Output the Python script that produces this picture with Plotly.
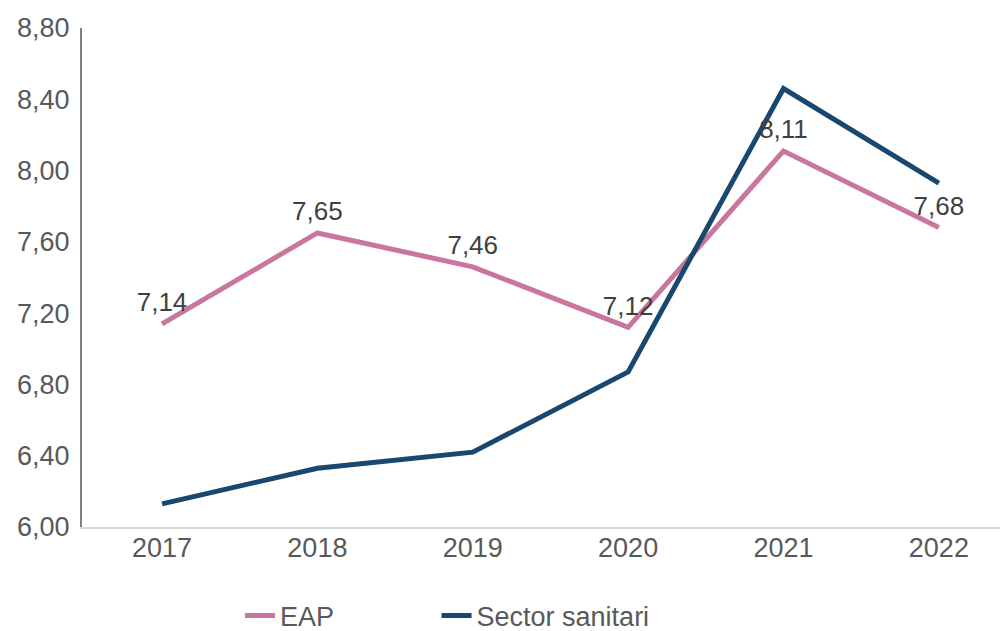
import plotly.graph_objects as go

years = ["2017", "2018", "2019", "2020", "2021", "2022"]
eap = [7.14, 7.65, 7.46, 7.12, 8.11, 7.68]
sector_sanitari = [6.13, 6.33, 6.42, 6.87, 8.46, 7.93]
eap_labels = ["7,14", "7,65", "7,46", "7,12", "8,11", "7,68"]
y_ticks = [6.0, 6.4, 6.8, 7.2, 7.6, 8.0, 8.4, 8.8]
y_ticktext = ["6,00", "6,40", "6,80", "7,20", "7,60", "8,00", "8,40", "8,80"]

FONT = "Liberation Sans, Arial, sans-serif"
PINK = "#C9769E"
NAVY = "#18476F"

fig = go.Figure()
fig.add_trace(go.Scatter(
    x=years, y=eap, name="EAP" + "\u00a0" * 13, mode="lines",
    line=dict(color=PINK, width=5),
    hoverinfo="skip",
))
fig.add_trace(go.Scatter(
    x=years, y=sector_sanitari, name="Sector sanitari", mode="lines",
    line=dict(color=NAVY, width=5),
    hoverinfo="skip",
))
# data labels for EAP
fig.add_trace(go.Scatter(
    x=years, y=eap, mode="markers+text", showlegend=False,
    marker=dict(size=8, opacity=0, color=PINK),
    text=eap_labels, textposition="top center",
    textfont=dict(family=FONT, size=26, color="#404040"),
    hoverinfo="skip",
))

fig.update_layout(
    width=1000, height=623,
    margin=dict(l=74, r=0, t=20, b=104, autoexpand=False),
    paper_bgcolor="white", plot_bgcolor="white",
    font=dict(family=FONT, size=27, color="#595959"),
    showlegend=True,
    legend=dict(
        orientation="h", xref="container", yref="container",
        x=0.232, xanchor="left", y=0.0241, yanchor="middle",
        font=dict(family=FONT, size=27, color="#595959"),
        bgcolor="rgba(0,0,0,0)",
    ),
    xaxis=dict(
        type="category", range=[-0.515, 5.445], automargin=False,
        showgrid=False, zeroline=False,
        showline=True, linecolor="#d9d9d9", linewidth=2,
        ticks="", ticklabelstandoff=-4,
        tickfont=dict(family=FONT, size=27, color="#595959"),
    ),
    yaxis=dict(
        range=[6.0, 8.8], tickvals=y_ticks, ticktext=y_ticktext, automargin=False,
        showgrid=False, zeroline=False,
        showline=True, linecolor="#808080", linewidth=2,
        ticks="", ticklabelstandoff=5,
        tickfont=dict(family=FONT, size=27, color="#595959"),
    ),
)

fig.write_html("out.html")
